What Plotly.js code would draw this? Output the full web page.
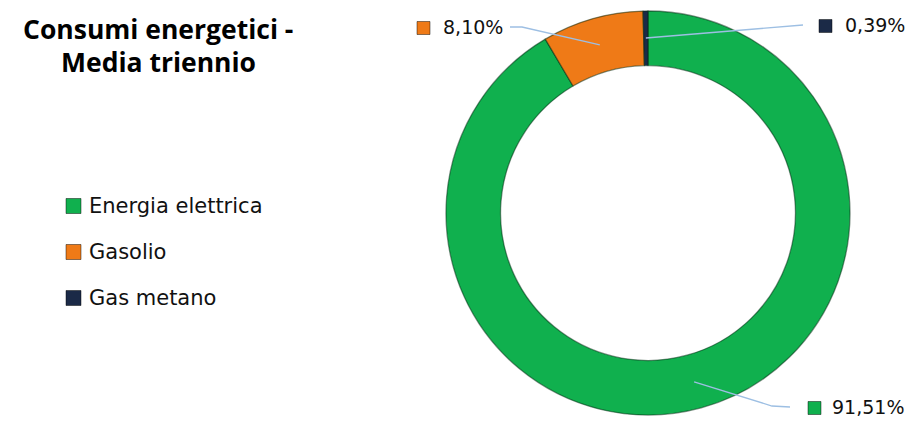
<!DOCTYPE html>
<html>
<head>
<meta charset="utf-8">
<script src="https://cdn.plot.ly/plotly-3.0.1.min.js"></script>
<style>html,body{margin:0;padding:0;background:#fff;}#chart{width:907px;height:421px;}</style>
</head>
<body>
<div id="chart"></div>
<script>
// ---- data ----
const categories = ["Energia elettrica", "Gasolio", "Gas metano"];
const values = [91.51, 8.10, 0.39];
const colors = ["#10b04e", "#ef7a17", "#1b2a47"];
const titleLines = ["Consumi energetici -", "Media triennio"];

// ---- geometry helpers (pixel -> paper) ----
const W = 907, H = 421;
const px = x => x / W;
const py = y => 1 - y / H;
const cx = 648, cy = 213, R = 202;
const FONT = "'DejaVu Sans', sans-serif";
const TFONT = "'Open Sans', 'Noto Sans', sans-serif";

const fmt = v => v.toFixed(2).replace(".", ",") + "%";

const trace = {
  type: "pie",
  labels: categories,
  values: values,
  hole: 0.73,
  sort: false,
  direction: "clockwise",
  rotation: 0,
  textinfo: "none",
  hoverinfo: "label+percent",
  marker: { colors: colors, line: { color: "rgba(0,40,15,0.5)", width: 1.3 } },
  domain: { x: [px(cx - R), px(cx + R)], y: [py(cy + R), py(cy - R)] },
  showlegend: false
};

// label placements in pixels: square left/centre-y, text left, elbow and end of leader line
const labelPos = [
  { sq: [808, 408], tx: 831, elbow: [772, 406], end: [790, 407] },
  { sq: [417, 28], tx: 442, elbow: [522, 27], end: [510, 27] },
  { sq: [819, 26], tx: 844, elbow: [803, 25], end: [803, 25] }
];
const legendRows = [206, 252, 298];

const shapes = [];
const annotations = [];
const total = values.reduce((a, b) => a + b, 0);
let cum = 0;
values.forEach((v, i) => {
  const mid = (cum + v / 2) / total * 2 * Math.PI;
  cum += v;
  const ax = cx + 175 * Math.sin(mid);
  const ay = cy - 175 * Math.cos(mid);
  const L = labelPos[i];
  shapes.push({
    type: "path", xref: "paper", yref: "paper",
    path: `M ${px(ax)} ${py(ay)} L ${px(L.elbow[0])} ${py(L.elbow[1])} L ${px(L.end[0])} ${py(L.end[1])}`,
    line: { color: "#9dbfe3", width: 1.3 }
  });
  shapes.push({
    type: "rect", xref: "paper", yref: "paper",
    x0: px(L.sq[0]), x1: px(L.sq[0] + 13), y0: py(L.sq[1] + 6.5), y1: py(L.sq[1] - 6.5),
    fillcolor: colors[i], line: { color: "rgba(0,0,0,0.45)", width: 1 }
  });
  annotations.push({
    xref: "paper", yref: "paper", x: px(L.tx), y: py(L.sq[1] - 1),
    xanchor: "left", yanchor: "middle", showarrow: false, borderpad: 0,
    text: fmt(v), font: { family: FONT, size: 19, color: "#111" }
  });
  const ly = legendRows[i];
  shapes.push({
    type: "rect", xref: "paper", yref: "paper",
    x0: px(66), x1: px(81), y0: py(ly + 7.5), y1: py(ly - 7.5),
    fillcolor: colors[i], line: { color: "rgba(0,0,0,0.45)", width: 1 }
  });
  annotations.push({
    xref: "paper", yref: "paper", x: px(87), y: py(ly),
    xanchor: "left", yanchor: "middle", showarrow: false,
    text: categories[i], font: { family: FONT, size: 21, color: "#111" }
  });
});

// title lines
[29, 62].forEach((y, k) => {
  annotations.push({
    xref: "paper", yref: "paper", x: px(158), y: py(y),
    xanchor: "center", yanchor: "middle", showarrow: false,
    text: "<b>" + titleLines[k] + "</b>",
    font: { family: TFONT, size: 26.5, color: "#000" }
  });
});

const layout = {
  width: W, height: H,
  margin: { l: 0, r: 0, t: 0, b: 0 },
  paper_bgcolor: "#fff",
  shapes: shapes,
  annotations: annotations
};

Plotly.newPlot("chart", [trace], layout, { displayModeBar: false, staticPlot: true });
</script>
</body>
</html>
